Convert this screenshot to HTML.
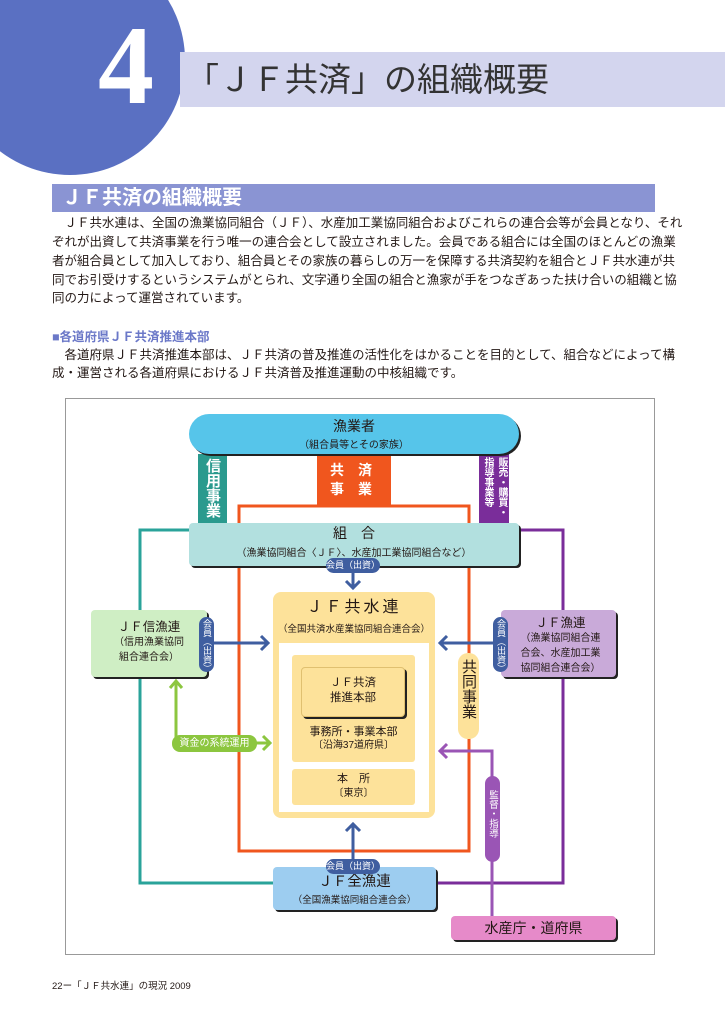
<!DOCTYPE html>
<html><head><meta charset="utf-8">
<style>
*{margin:0;padding:0;box-sizing:border-box}
body{width:725px;height:1024px;position:relative;background:#fff;overflow:hidden;font-family:"Liberation Sans","Noto Sans CJK JP",sans-serif;color:#231815}
.a{position:absolute}
.p{position:absolute;left:52px;width:603px;font-size:12.5px;line-height:15px;white-space:nowrap;text-align:justify;text-align-last:justify}
.c{text-align:center}
.box{position:absolute;border-radius:4px;box-shadow:2px 2px 0 #222}
.vt{writing-mode:vertical-rl;text-orientation:upright}
.pill{position:absolute;background:#3f5ea0;color:#fff;font-size:9px;border-radius:8px;text-align:center}
</style></head><body>
<div class="a" style="left:-45px;top:-55px;width:230px;height:230px;border-radius:50%;background:#5a70c2"></div>
<div class="a" style="left:180px;top:52px;width:545px;height:55px;background:#d3d5ee"></div>
<div class="a" style="left:98px;top:10px;font-family:'Liberation Serif',serif;font-weight:bold;font-size:112px;line-height:112px;color:#fff">4</div>
<div class="a" style="left:186px;top:60px;font-size:33px;line-height:40px;color:#333;letter-spacing:0px">「ＪＦ共済」の組織概要</div>

<div class="a" style="left:52px;top:184px;width:603px;height:28px;background:#8a94d3"></div>
<div class="a" style="left:62px;top:185px;font-size:20px;line-height:26px;font-weight:bold;color:#fff">ＪＦ共済の組織概要</div>
<div class="p" style="top:216px">　ＪＦ共水連は、全国の漁業協同組合（ＪＦ）、水産加工業協同組合およびこれらの連合会等が会員となり、それ</div>
<div class="p" style="top:235px">ぞれが出資して共済事業を行う唯一の連合会として設立されました。会員である組合には全国のほとんどの漁業</div>
<div class="p" style="top:254px">者が組合員として加入しており、組合員とその家族の暮らしの万一を保障する共済契約を組合とＪＦ共水連が共</div>
<div class="p" style="top:273px">同でお引受けするというシステムがとられ、文字通り全国の組合と漁家が手をつなぎあった扶け合いの組織と協</div>
<div class="p" style="top:291px;text-align-last:left">同の力によって運営されています。</div>
<div class="a" style="left:52px;top:330px;font-size:12.5px;line-height:15px;font-weight:bold;color:#6b78c8">■各道府県ＪＦ共済推進本部</div>
<div class="p" style="top:348px">　各道府県ＪＦ共済推進本部は、ＪＦ共済の普及推進の活性化をはかることを目的として、組合などによって構</div>
<div class="p" style="top:366px;text-align-last:left">成・運営される各道府県におけるＪＦ共済普及推進運動の中核組織です。</div>

<div class="a" style="left:65px;top:398px;width:590px;height:557px;border:1px solid #999"></div>

<svg class="a" style="left:0;top:0" width="725" height="1024">
<polyline points="189,530 140,530 140,883 273,883" fill="none" stroke="#2aa39a" stroke-width="3"/>
<polyline points="519,530 563,530 563,883 436,883" fill="none" stroke="#7a2d9a" stroke-width="3"/>
<rect x="239" y="506" width="230" height="345" fill="none" stroke="#f0561e" stroke-width="3"/>
<polyline points="492,916 492,751 440,751" fill="none" stroke="#9a55b5" stroke-width="3"/>
<polyline points="447,744 440,751 447,758" fill="none" stroke="#9a55b5" stroke-width="3"/>
<polyline points="176,682 176,743 270,743" fill="none" stroke="#8cc63f" stroke-width="3"/>
<polyline points="170,688 176,681 182,688" fill="none" stroke="#8cc63f" stroke-width="3"/>
<polyline points="263,736 270,743 263,750" fill="none" stroke="#8cc63f" stroke-width="3"/>
<line x1="213" y1="643" x2="268" y2="643" stroke="#3f5ea0" stroke-width="3"/>
<polyline points="261,636 268,643 261,650" fill="none" stroke="#3f5ea0" stroke-width="3"/>
<line x1="500" y1="643" x2="440" y2="643" stroke="#3f5ea0" stroke-width="3"/>
<polyline points="447,636 440,643 447,650" fill="none" stroke="#3f5ea0" stroke-width="3"/>
<line x1="353" y1="570" x2="353" y2="588" stroke="#3f5ea0" stroke-width="3"/>
<polyline points="346,581 353,588 360,581" fill="none" stroke="#3f5ea0" stroke-width="3"/>
<line x1="353" y1="867" x2="353" y2="824" stroke="#3f5ea0" stroke-width="3"/>
<polyline points="346,831 353,824 360,831" fill="none" stroke="#3f5ea0" stroke-width="3"/>
</svg>

<div class="a vt" style="left:198px;top:454px;width:29px;height:70px;background:#2a9a8e;color:#fff;font-weight:bold;font-size:15px;line-height:29px;padding-top:4px">信用事業</div>
<div class="a vt" style="left:479px;top:454px;width:30px;height:70px;background:#7a2d9a;color:#fff;font-weight:bold;font-size:10px;line-height:14px;padding:3px 1px 0 0;overflow:hidden">販売・購買・指導事業等</div>
<div class="a" style="left:317px;top:454px;width:74px;height:52px;background:#f0561e;color:#fff;font-weight:bold;font-size:14px;line-height:19px;padding:7px 0 0 13px">共　済<br>事　業</div>

<div class="box" style="left:189px;top:414px;width:330px;height:40px;background:#56c5ea;border-radius:20px"></div>
<div class="a c" style="left:189px;top:418px;width:330px;font-size:14px;line-height:17px">漁業者<br><span style="font-size:10px">（組合員等とその家族）</span></div>

<div class="box" style="left:189px;top:523px;width:330px;height:43px;background:#b2e0df"></div>
<div class="a c" style="left:189px;top:524px;width:330px;font-size:14px;line-height:18px">組　合<br><span style="font-size:10px">（漁業協同組合〈ＪＦ〉、水産加工業協同組合など）</span></div>
<div class="pill" style="left:326px;top:558px;width:54px;height:15px;line-height:15px">会員（出資）</div>

<div class="a" style="left:273px;top:592px;width:162px;height:226px;background:#fde29a;border-radius:8px"></div>
<div class="a" style="left:279px;top:643px;width:150px;height:169px;background:#fff"></div>
<div class="a c" style="left:273px;top:598px;width:162px;font-size:16px;line-height:20px;letter-spacing:3px">ＪＦ共水連<br><span style="font-size:9.5px;letter-spacing:0">（全国共済水産業協同組合連合会）</span></div>
<div class="a" style="left:292px;top:655px;width:123px;height:107px;background:#fde29a;border-radius:3px"></div>
<div class="box" style="left:301px;top:667px;width:104px;height:50px;background:#fde29a;border:1px solid #e0c070"></div>
<div class="a c" style="left:301px;top:676px;width:104px;font-size:11.5px;line-height:15px">ＪＦ共済<br>推進本部</div>
<div class="a c" style="left:292px;top:726px;width:123px;font-size:11px;line-height:13px">事務所・事業本部<br><span style="font-size:10px">〔沿海37道府県〕</span></div>
<div class="a" style="left:292px;top:769px;width:123px;height:36px;background:#fde29a;border-radius:3px"></div>
<div class="a c" style="left:292px;top:772px;width:123px;font-size:11px;line-height:14px">本　所<br><span style="font-size:10px">〔東京〕</span></div>

<div class="box" style="left:91px;top:610px;width:116px;height:67px;background:#cfeec4"></div>
<div class="a c" style="left:91px;top:620px;width:116px;font-size:12.5px;line-height:14px">ＪＦ信漁連<br><span style="font-size:10px;line-height:12px">（信用漁業協同<br>組合連合会）</span></div>
<div class="pill vt" style="left:199px;top:617px;width:15px;height:55px;line-height:15px;padding-top:2px">会員（出資）</div>

<div class="box" style="left:501px;top:610px;width:115px;height:67px;background:#c9aad9"></div>
<div class="a c" style="left:505px;top:616px;width:111px;font-size:12.5px;line-height:14px">ＪＦ漁連<br><span style="font-size:10px;line-height:12px">（漁業協同組合連<br>合会、水産加工業<br>協同組合連合会）</span></div>
<div class="pill vt" style="left:493px;top:617px;width:15px;height:55px;line-height:15px;padding-top:2px">会員（出資）</div>

<div class="a vt" style="left:458px;top:653px;width:21px;height:86px;background:#fde29a;border-radius:10px;font-size:15px;line-height:21px;padding-top:6px">共同事業</div>
<div class="a vt" style="left:485px;top:776px;width:15px;height:86px;background:#9a55b5;border-radius:8px;color:#fff;font-size:9.5px;line-height:15px;padding-top:14px">監督・指導</div>
<div class="a c" style="left:172px;top:735px;width:85px;height:17px;background:#8cc63f;border-radius:8px;color:#fff;font-size:10px;line-height:17px">資金の系統運用</div>

<div class="box" style="left:273px;top:867px;width:163px;height:43px;background:#9dcdf0"></div>
<div class="a c" style="left:273px;top:874px;width:163px;font-size:14.5px;line-height:17px">ＪＦ全漁連<br><span style="font-size:9.5px">（全国漁業協同組合連合会）</span></div>
<div class="pill" style="left:326px;top:859px;width:54px;height:15px;line-height:15px">会員（出資）</div>

<div class="box" style="left:451px;top:916px;width:165px;height:24px;background:#e68ac9"></div>
<div class="a c" style="left:451px;top:918px;width:165px;font-size:14px;line-height:20px">水産庁・道府県</div>

<div class="a" style="left:52px;top:981px;font-size:9.5px;line-height:12px">22ー「ＪＦ共水連」の現況 2009</div>
</body></html>
